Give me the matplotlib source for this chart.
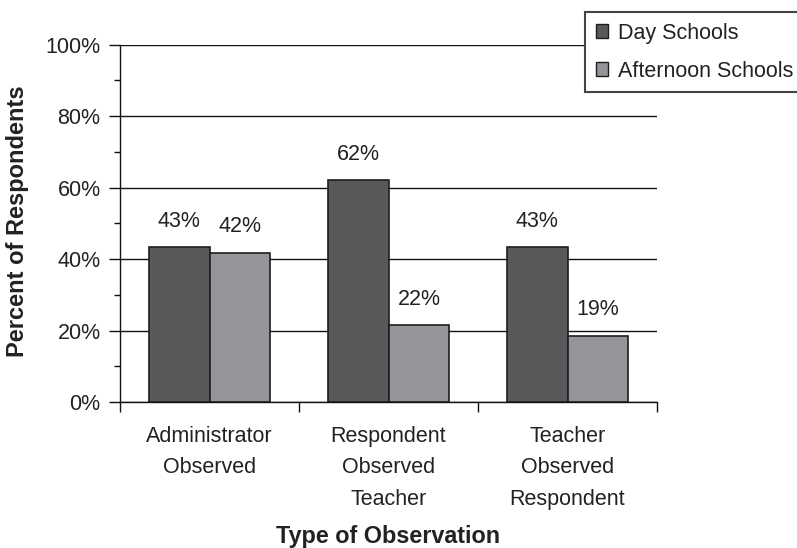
import matplotlib
matplotlib.use("Agg")
import matplotlib.pyplot as plt
from matplotlib.patches import Patch
from matplotlib.ticker import MultipleLocator, FuncFormatter
import numpy as np

plt.rcParams['font.family'] = ['Liberation Sans', 'DejaVu Sans']

categories = ["Administrator\nObserved", "Respondent\nObserved\nTeacher", "Teacher\nObserved\nRespondent"]
series_names = ["Day Schools", "Afternoon Schools"]
day_values = [43.4, 62.1, 43.4]
afternoon_values = [41.8, 21.5, 18.6]
day_labels = ["43%", "62%", "43%"]
afternoon_labels = ["42%", "22%", "19%"]

colors = ["#58595b", "#939598"]
edge = "#1e1e1e"

fig = plt.figure(figsize=(7.97, 5.48), dpi=100)
ax = fig.add_axes([120/797, 1-402/548, (657-120)/797, (402-44.7)/548])

x = np.arange(len(categories))
w = 0.34
b1 = ax.bar(x - w/2, day_values, w, color=colors[0], edgecolor=edge, linewidth=1.2, zorder=3)
b2 = ax.bar(x + w/2, afternoon_values, w, color=colors[1], edgecolor=edge, linewidth=1.2, zorder=3)

fs = 15.5
for rect, lab in zip(b1, day_labels):
    ax.annotate(lab, (rect.get_x() + rect.get_width()/2, rect.get_height()),
                xytext=(0, 11), textcoords="offset points", ha="center", va="bottom",
                fontsize=fs, color="#222222")
for rect, lab in zip(b2, afternoon_labels):
    ax.annotate(lab, (rect.get_x() + rect.get_width()/2, rect.get_height()),
                xytext=(0, 11), textcoords="offset points", ha="center", va="bottom",
                fontsize=fs, color="#222222")

ax.set_ylim(0, 100)
ax.set_xlim(-0.5, 2.5)
ax.yaxis.set_major_locator(MultipleLocator(20))
ax.yaxis.set_minor_locator(MultipleLocator(10))
ax.yaxis.set_major_formatter(FuncFormatter(lambda v, p: f"{int(v)}%"))
ax.grid(axis="y", which="major", color="#111111", linewidth=1.0, zorder=0)
ax.set_axisbelow(True)

ax.set_xticks(x)
ax.set_xticklabels(categories, linespacing=1.67)
ax.set_xticks([-0.5, 0.5, 1.5, 2.5], minor=True)
ax.tick_params(axis="x", which="major", length=0, pad=17, labelsize=fs, colors="#222222")
ax.tick_params(axis="x", which="minor", length=7, width=1.0, direction="out", color="#111111")
ax.tick_params(axis="y", which="major", length=8, width=1.0, pad=6, labelsize=fs, colors="#222222")
ax.tick_params(axis="y", which="minor", length=4, width=1.0, color="#111111")
ax.tick_params(axis="y", which="both", color="#111111")

for s in ["top", "right"]:
    ax.spines[s].set_visible(False)
for s in ["left", "bottom"]:
    ax.spines[s].set_color("#111111")
    ax.spines[s].set_linewidth(1.0)

fig.text(388/797, 1-543/548, "Type of Observation", ha="center", va="baseline",
         fontsize=16.8, fontweight="bold", color="#222222")
fig.text(18/797, 1-221.5/548, "Percent of Respondents", ha="center", va="center",
         rotation=90, fontsize=17, fontweight="bold", color="#222222")

handles = [Patch(facecolor=colors[0], edgecolor=edge, linewidth=1.0),
           Patch(facecolor=colors[1], edgecolor=edge, linewidth=1.0)]
leg = fig.legend(handles, series_names, loc="upper left",
                 bbox_to_anchor=(585/797, 1-12/548), fontsize=fs,
                 fancybox=False, framealpha=1, edgecolor="#444444",
                 handlelength=0.6, handleheight=0.6, handletextpad=0.45,
                 borderpad=0.49, labelspacing=0.79, borderaxespad=0)
leg.get_frame().set_linewidth(1.5)
for t in leg.get_texts():
    t.set_color("#222222")

fig.savefig("out.png", dpi=100)
